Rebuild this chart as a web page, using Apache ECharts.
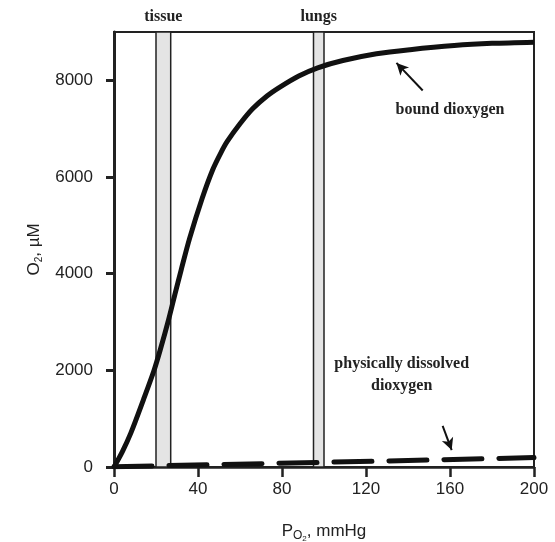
<!DOCTYPE html>
<html><head><meta charset="utf-8">
<script src="https://cdn.jsdelivr.net/npm/echarts@6/dist/echarts.min.js"></script>
<style>html,body{margin:0;padding:0;background:#fff}#c{width:555px;height:542px}</style>
</head><body><div id="c"></div>
<script>
// Bound dioxygen (Hb-bound), µM vs PO2 mmHg
const boundPO2 = [0, 4, 8, 14, 19, 22, 26, 29, 32, 36, 42, 47, 51, 54, 60, 66, 73, 79, 88, 97, 109, 125, 141, 162, 180, 200];
const boundO2  = [0, 320, 700, 1390, 1990, 2420, 3050, 3570, 4080, 4730, 5560, 6150, 6510, 6740, 7100, 7410, 7680, 7860, 8090, 8260, 8410, 8550, 8635, 8720, 8765, 8790];
// Physically dissolved dioxygen
const dissolvedPO2 = [0, 50, 100, 150, 200];
const dissolvedO2  = [5, 50, 97, 145, 195];
// Shaded ranges
const tissueRange = [20, 27];
const lungsRange = [95, 100];
// Ticks
const xTicks = [0, 40, 80, 120, 160, 200];
const yTicks = [0, 2000, 4000, 6000, 8000];
// Annotations (data coordinates)
const boundLabel = {text: 'bound dioxygen', x: 160, y: 7380};
const boundArrow = {from: [147, 7790], to: [134.5, 8360]};
const dissLabel = {text: 'physically dissolved\ndioxygen', x: 137, y: 1900};
const dissArrow = {from: [156.5, 850], to: [160.8, 350]};

const zip = (a, b) => a.map((v, i) => [v, b[i]]);
const serif = '"Liberation Serif", "Times New Roman", serif';
const sans = '"Liberation Sans", Arial, sans-serif';
const annLabel = {fontFamily: serif, fontWeight: 'bold', fontSize: 16, color: '#222', lineHeight: 22, align: 'center'};

const chart = echarts.init(document.getElementById('c'), null, {renderer: 'canvas'});
chart.setOption({
  animation: false,
  grid: {left: 114, right: 21, top: 32, bottom: 75, outerBoundsMode: 'none', containLabel: false,
         show: true, borderColor: '#222', borderWidth: 2, backgroundColor: 'transparent'},
  xAxis: {
    type: 'value', min: 0, max: 200, interval: 40,
    name: 'P{sub|O}{sub2|2}, mmHg', nameLocation: 'middle', nameGap: 52,
    nameTextStyle: {fontFamily: sans, fontSize: 17, color: '#222',
      rich: {sub: {fontFamily: sans, fontSize: 12, color: '#222', padding: [10, 0, 0, 0]},
             sub2: {fontFamily: sans, fontSize: 8, color: '#222', padding: [16, 0, 0, 0]}}},
    axisLine: {show: true, lineStyle: {color: '#222', width: 2.5}},
    axisTick: {show: true, inside: false, length: 10, lineStyle: {color: '#222', width: 2.5}, customValues: xTicks},
    axisLabel: {fontFamily: sans, fontSize: 17, color: '#222', margin: 14, customValues: xTicks, formatter: v => String(v)},
    splitLine: {show: false}
  },
  yAxis: {
    type: 'value', min: 0, max: 9000, interval: 2000,
    name: 'O{sub|2}, µM', nameLocation: 'middle', nameGap: 68,
    nameTextStyle: {fontFamily: sans, fontSize: 17, color: '#222',
      rich: {sub: {fontFamily: sans, fontSize: 10, color: '#222', padding: [10, 0, 0, 0]}}},
    axisLine: {show: true, lineStyle: {color: '#222', width: 3}},
    axisTick: {show: true, inside: false, length: 8, lineStyle: {color: '#222', width: 3}, customValues: yTicks},
    axisLabel: {fontFamily: sans, fontSize: 17, color: '#222', margin: 21, customValues: yTicks, formatter: v => String(v)},
    splitLine: {show: false}
  },
  series: [
    {
      type: 'line', data: zip(dissolvedPO2, dissolvedO2), showSymbol: false, z: 3,
      lineStyle: {color: '#111', width: 5, type: [38, 17], cap: 'round'},
      markLine: {
        silent: true, symbol: ['none', 'arrow'], symbolSize: [9, 12],
        lineStyle: {color: '#111', width: 2, type: 'solid'}, label: {show: false},
        data: [[{coord: dissArrow.from}, {coord: dissArrow.to}]]
      },
      markPoint: {
        silent: true, symbol: 'rect', symbolSize: 0,
        label: Object.assign({show: true, position: 'inside', formatter: dissLabel.text}, annLabel),
        data: [{coord: [dissLabel.x, dissLabel.y]}]
      }
    },
    {
      type: 'line', data: zip(boundPO2, boundO2), showSymbol: false, smooth: 0.3, z: 4,
      lineStyle: {color: '#111', width: 5},
      markArea: {
        silent: true,
        itemStyle: {color: '#e4e4e4', borderColor: '#222', borderWidth: 1.5},
        label: {show: true, position: 'top', distance: 6, fontFamily: serif, fontWeight: 'bold', fontSize: 16, color: '#222'},
        data: [
          [{name: 'tissue', xAxis: tissueRange[0], yAxis: 0}, {xAxis: tissueRange[1], yAxis: 9000}],
          [{name: 'lungs', xAxis: lungsRange[0], yAxis: 0}, {xAxis: lungsRange[1], yAxis: 9000}]
        ]
      },
      markLine: {
        silent: true, symbol: ['none', 'arrow'], symbolSize: [9, 12],
        lineStyle: {color: '#111', width: 2, type: 'solid'}, label: {show: false},
        data: [[{coord: boundArrow.from}, {coord: boundArrow.to}]]
      },
      markPoint: {
        silent: true, symbol: 'rect', symbolSize: 0,
        label: Object.assign({show: true, position: 'inside', formatter: boundLabel.text}, annLabel),
        data: [{coord: [boundLabel.x, boundLabel.y]}]
      }
    }
  ]
});
</script></body></html>
